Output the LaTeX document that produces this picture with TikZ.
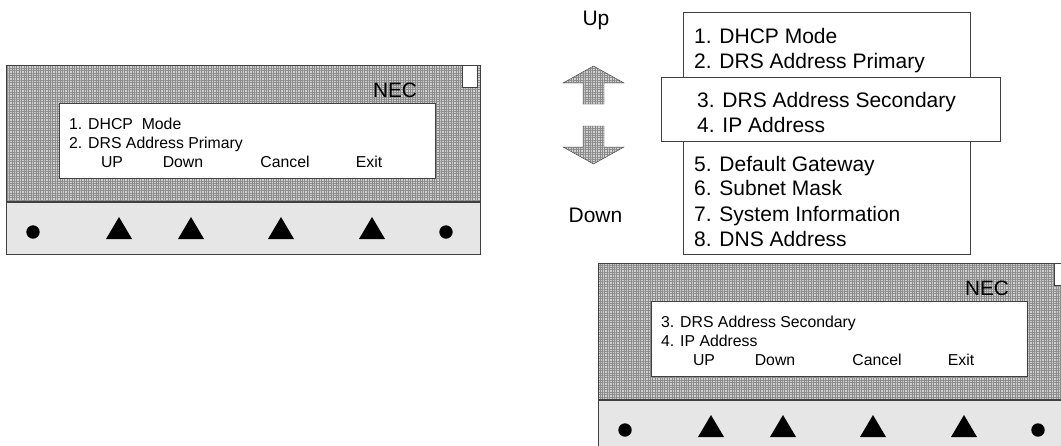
\documentclass[tikz,border=0pt]{standalone}
\usepackage{fontspec}
\setmainfont{Liberation Sans}
\usetikzlibrary{patterns.meta}
\definecolor{Frame}{HTML}{404040}
\definecolor{Keypad}{HTML}{E6E6E6}
\definecolor{Mesh}{HTML}{D0D0D0}
\definecolor{MeshLine}{HTML}{8C8C8C}

\tikzset{
  mesh/.style={preaction={fill=Mesh}, pattern={Hatch[angle=0,distance=2.4pt,line width=0.9pt]}, pattern color=MeshLine},
  screentext/.style={anchor=base west, inner sep=0pt, font=\fontsize{15.8}{18}\selectfont},
  softkey/.style={anchor=base, inner sep=0pt, font=\fontsize{15.8}{18}\selectfont},
  brand/.style={inner sep=0pt, font=\fontsize{20.8}{24}\selectfont},
  menuitem/.style={anchor=base west, inner sep=0pt, font=\fontsize{21}{25}\selectfont},
  arrowlabel/.style={anchor=base, inner sep=0pt, font=\fontsize{21}{25}\selectfont}
}

% one NEC display: name prefix, shift x, shift y, two menu lines
\newcommand{\necpanel}[5]{%
  \begin{scope}[shift={(#2,#3)}]
    \draw[mesh, draw=Frame] (0,0) rectangle (474,137);
    \draw[fill=Keypad, draw=Frame] (0,137) rectangle (474,189);
    \draw[Frame, line width=1.2pt] (0,137) -- (474,137);
    \draw[fill=white, draw=Frame] (456,0) rectangle (471,22);
    \node[brand] (#1nec) at (389,25) {NEC};
    \draw[fill=white, draw=Frame] (53,38) rectangle (429,113);
    \node[screentext] (#1a) at (63,64) {#4};
    \node[screentext] (#1b) at (63,83) {#5};
    \foreach \x/\lbl [count=\i] in {106/UP,177/Down,279/Cancel,363/Exit}
      \node[softkey] (#1k\i) at (\x,102) {\lbl};
    \fill (27,167) circle (6.7pt) (440,167) circle (6.7pt);
    \foreach \x in {113,185,275,366}
      \fill (\x-13,174) -- (\x,152) -- (\x+13,174) -- cycle;
  \end{scope}}

\begin{document}
\begin{tikzpicture}[x=1pt, y=-1pt]
  \useasboundingbox (0,0) rectangle (1061,445);
  \clip (0,0) rectangle (1061,445);

  % display before scrolling
  \necpanel{left}{6}{65}{1. DHCP\ \ Mode}{2. DRS Address Primary}

  % full menu list
  \draw[fill=white, draw=Frame] (683,12) rectangle (970,254);
  \node[menuitem] (m1) at (694,43) {1. DHCP Mode};
  \node[menuitem] (m2) at (694,68.3) {2. DRS Address Primary};
  \draw[fill=white, draw=Frame] (661,77) rectangle (1000,141);
  \node[menuitem] (m3) at (697,107.3) {3. DRS Address Secondary};
  \node[menuitem] (m4) at (697,132.7) {4. IP Address};
  \node[menuitem] (m5) at (694,171) {5. Default Gateway};
  \node[menuitem] (m6) at (694,195.7) {6. Subnet Mask};
  \node[menuitem] (m7) at (694,221.7) {7. System Information};
  \node[menuitem] (m8) at (694,246.7) {8. DNS Address};

  % scroll arrows
  \node[arrowlabel] (up) at (596,25) {Up};
  \draw[mesh, draw=Frame] (563,83) -- (593.5,66) -- (624,83) -- (604,83)
    -- (604,104) -- (583,104) -- (583,83) -- cycle;
  \draw[mesh, draw=Frame] (583,126) -- (604,126) -- (604,147) -- (624,147)
    -- (593.5,164) -- (563,147) -- (583,147) -- cycle;
  \node[arrowlabel] (down) at (595.5,222) {Down};

  % display after scrolling
  \necpanel{right}{598}{263}{3. DRS Address Secondary}{4. IP Address}
\end{tikzpicture}
\end{document}
